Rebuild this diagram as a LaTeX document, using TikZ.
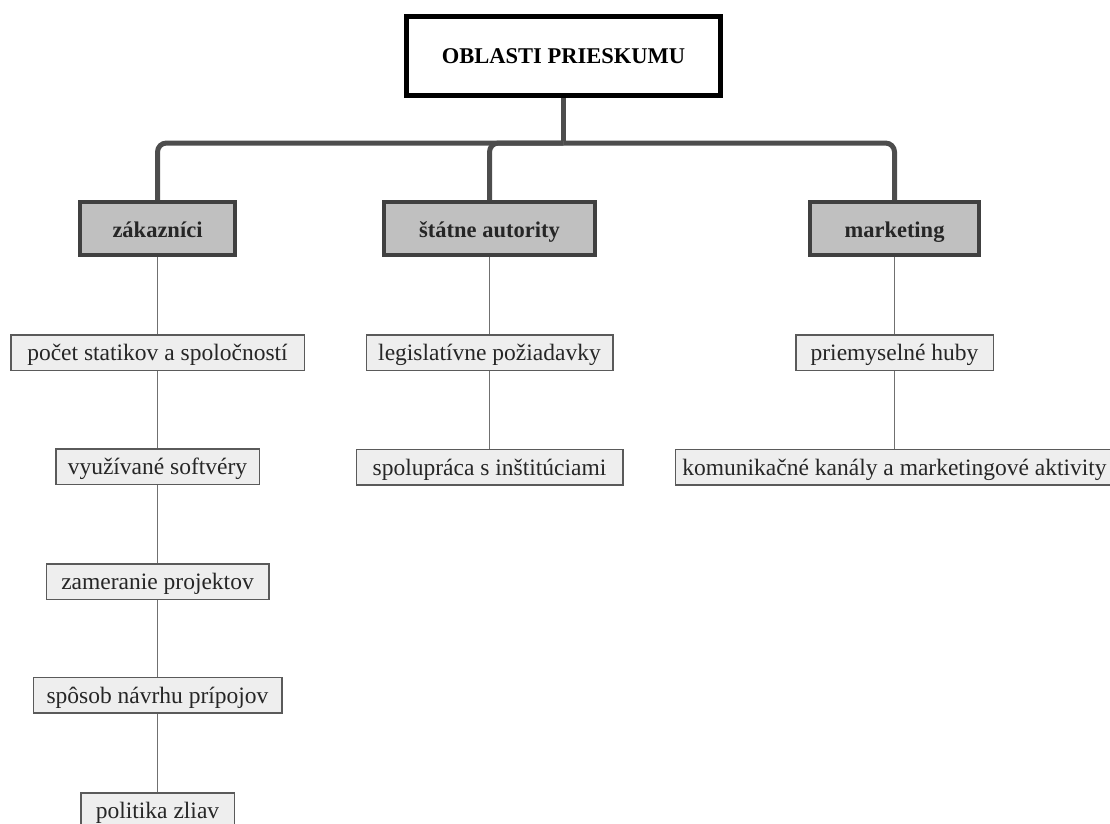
\documentclass[tikz,border=0pt]{standalone}
\usepackage{fontspec}
\setmainfont{Liberation Serif}
\definecolor{busgray}{HTML}{4D4D4D}
\definecolor{lvonefill}{HTML}{C0C0C0}
\definecolor{lvoneline}{HTML}{404040}
\definecolor{lvtwofill}{HTML}{EEEEEE}
\definecolor{lvtwoline}{HTML}{5A5A5A}
\definecolor{thinline}{HTML}{707070}
\begin{document}
\begin{tikzpicture}[x=1pt,y=-1pt,
  topbox/.style={text height=19pt,text depth=5pt,draw=black,line width=5pt,fill=white,inner sep=0pt,
    font=\fontsize{22.5}{26}\selectfont\bfseries},
  lvone/.style={text height=22pt,text depth=5pt,draw=lvoneline,line width=4pt,fill=lvonefill,inner sep=0pt,
    minimum height=53pt,text=black!85,font=\fontsize{22.5}{26}\selectfont\bfseries},
  lvtwo/.style={text height=21pt,text depth=5pt,draw=lvtwoline,line width=1.5pt,fill=lvtwofill,inner sep=0pt,
    minimum height=35.5pt,text=black!85,font=\fontsize{23.5}{27}\selectfont},
  bus/.style={draw=busgray,line width=5pt,rounded corners=9pt},
  stemline/.style={draw=busgray,line width=5pt},
  thin/.style={draw=thinline,line width=1.8pt}]
\useasboundingbox (0,0) rectangle (1110,823);
\node[topbox,minimum width=314pt,minimum height=79pt] (top) at (563.5,56) {OBLASTI PRIESKUMU};
\node[lvone,minimum width=155pt] (zak) at (157.5,228.5) {zákazníci};
\node[lvone,minimum width=211pt] (sta) at (489.5,228.5) {štátne autority};
\node[lvone,minimum width=169pt] (mar) at (894.5,228.5) {marketing};
\coordinate (stem) at (563.5,143);
\draw[stemline] (top.south) -- ([yshift=2.5pt]stem);
\draw[bus] (stem) -| (zak.north);
\draw[bus] (stem) -| (sta.north);
\draw[bus] (stem) -| (mar.north);
\node[lvtwo,minimum width=293.5pt] (z1) at (157.5,352.5) {počet statikov a spoločností};
\node[lvtwo,minimum width=203.5pt] (z2) at (157.5,466.5) {využívané softvéry};
\node[lvtwo,minimum width=222.5pt] (z3) at (157.5,581.5) {zameranie projektov};
\node[lvtwo,minimum width=248.5pt] (z4) at (157.5,695) {spôsob návrhu prípojov};
\node[lvtwo,minimum width=153.5pt] (z5) at (157.5,810.5) {politika zliav};
\node[lvtwo,minimum width=246.5pt] (s1) at (489.5,352.5) {legislatívne požiadavky};
\node[lvtwo,minimum width=266.5pt] (s2) at (489.5,467) {spolupráca s inštitúciami};
\node[lvtwo,minimum width=197.5pt] (m1) at (894.5,352.5) {priemyselné huby};
\node[lvtwo,minimum width=438.5pt] (m2) at (894.5,467) {komunikačné kanály a marketingové aktivity};
\draw[thin] (zak.south) -- (z1.north);
\draw[thin] (z1.south) -- (z2.north);
\draw[thin] (z2.south) -- (z3.north);
\draw[thin] (z3.south) -- (z4.north);
\draw[thin] (z4.south) -- (z5.north);
\draw[thin] (sta.south) -- (s1.north);
\draw[thin] (s1.south) -- (s2.north);
\draw[thin] (mar.south) -- (m1.north);
\draw[thin] (m1.south) -- (m2.north);
\end{tikzpicture}
\end{document}
